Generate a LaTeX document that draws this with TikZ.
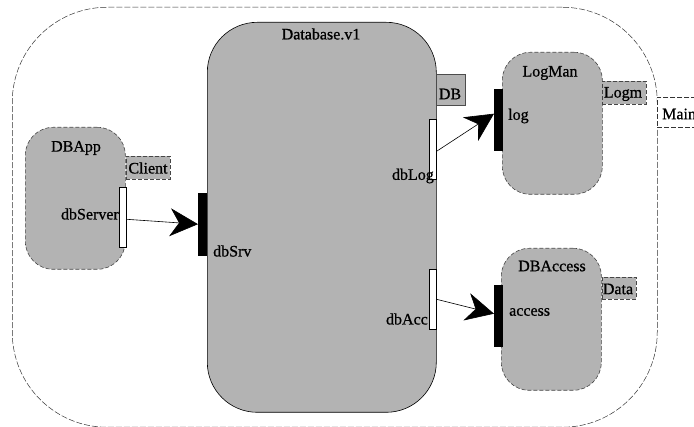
\documentclass[tikz,border=0pt]{standalone}
\usepackage{fontspec}
\setmainfont{Liberation Serif}
\newfontfamily\heavyserif[FakeBold=0.8]{Liberation Serif}
\usetikzlibrary{arrows.meta}
\definecolor{compgray}{RGB}{179,179,179}
\definecolor{dashgray}{RGB}{70,70,70}
\tikzset{
  comp/.style={draw=black, fill=compgray, anchor=north west, inner sep=0pt, line width=0.6pt},
  dashcomp/.style={comp, draw=dashgray, dash pattern=on 4pt off 2pt},
  tagbox/.style={draw=dashgray, fill=compgray, anchor=north west, inner sep=0pt, line width=0.6pt, dash pattern=on 4pt off 2pt},
  solidtag/.style={draw=black!70, fill=compgray, anchor=north west, inner sep=0pt, line width=0.6pt},
  inport/.style={draw=black, fill=black, anchor=north west, inner sep=0pt, minimum width=8pt, minimum height=61pt},
  outport/.style={draw=black, fill=white, anchor=north west, inner sep=0pt, minimum width=7pt, minimum height=60pt, line width=0.6pt},
  lbl/.style={font=\heavyserif\fontsize{16}{18}\selectfont, inner sep=0pt},
  conn/.style={line width=0.6pt, -{Stealth[length=28pt, width=28pt, inset=9pt]}},
}
\begin{document}
\begin{tikzpicture}[x=1pt, y=-1pt]
\useasboundingbox (0,0) rectangle (694,427);
\clip (0,0) rectangle (694,427);
% outer container
\node[draw=black!80, line width=0.5pt, dash pattern=on 6pt off 2pt, rounded corners=95pt, anchor=north west, inner sep=0pt, minimum width=645pt, minimum height=420pt] (main) at (12,7) {};
\node[draw=black!80, fill=white, line width=0.5pt, dash pattern=on 5pt off 2pt, anchor=north west, inner sep=0pt, minimum width=50pt, minimum height=30pt] (maintag) at (657,97) {};
\node[lbl, anchor=west] (maintext) at (662,114) {Main};

% Database.v1
\node[comp, rounded corners=50pt, minimum width=229pt, minimum height=390pt] (db) at (207,22) {};
\node[lbl] (dbtitle) at (321,34) {Database.v1};
\node[solidtag, minimum width=29pt, minimum height=31pt] (dbtag) at (436,74) {};
\node[lbl] (dbtagtext) at (450,94) {DB};
\node[outport] (dbLog) at (429,119) {};
\node[lbl, anchor=east] (dbLogtext) at (434,176) {dbLog};
\node[outport] (dbAcc) at (429,269) {};
\node[lbl, anchor=east] (dbAcctext) at (428,319) {dbAcc};
\node[inport, minimum height=62pt] (dbSrv) at (198,193) {};
\node[lbl, anchor=west] (dbSrvtext) at (213,251) {dbSrv};

% DBApp
\node[dashcomp, rounded corners=28pt, minimum width=100pt, minimum height=142pt] (dbapp) at (25,127) {};
\node[lbl] (dbapptitle) at (76,148) {DBApp};
\node[tagbox, minimum width=44pt, minimum height=23pt] (clienttag) at (126,156) {};
\node[lbl] (clienttext) at (148,168) {Client};
\node[outport] (dbServer) at (119,187) {};
\node[lbl, anchor=east] (dbServertext) at (119,214) {dbServer};

% LogMan
\node[dashcomp, rounded corners=28pt, minimum width=100pt, minimum height=142pt] (logman) at (502,52) {};
\node[lbl] (logmantitle) at (550,73) {LogMan};
\node[tagbox, minimum width=44pt, minimum height=23pt] (logmtag) at (602,81) {};
\node[lbl] (logmtext) at (623,94) {Logm};
\node[inport] (log) at (494,89) {};
\node[lbl, anchor=west] (logtext) at (508,116) {log};

% DBAccess
\node[dashcomp, rounded corners=28pt, minimum width=100pt, minimum height=142pt] (dbaccess) at (501,248) {};
\node[lbl] (dbaccesstitle) at (552,266) {DBAccess};
\node[tagbox, minimum width=34pt, minimum height=22pt] (datatag) at (602,277) {};
\node[lbl] (datatext) at (618,289) {Data};
\node[inport] (access) at (494,285) {};
\node[lbl, anchor=west] (accesstext) at (509,312) {access};

% connectors
\draw[conn] ([yshift=-2pt]dbServer.east) -- (dbSrv.west);
\draw[conn] ([yshift=-2pt]dbLog.east) -- ([yshift=6pt]log.west);
\draw[conn] (dbAcc.east) -- ([yshift=2pt]access.west);
\end{tikzpicture}
\end{document}
